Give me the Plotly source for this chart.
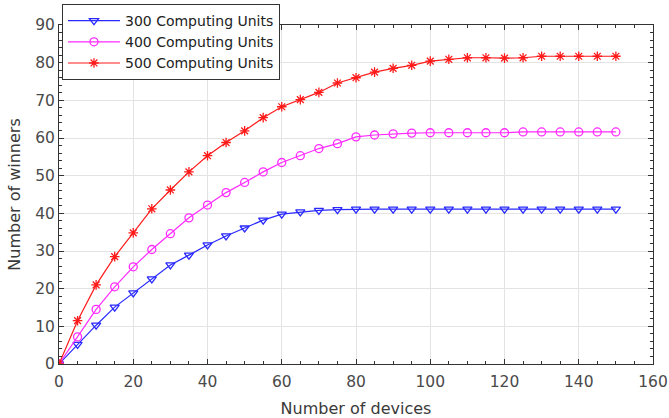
import plotly.graph_objects as go

devices = list(range(0, 155, 5))
units_300 = [0, 5.2, 10.3, 15.1, 18.9, 22.6, 26.3, 28.9, 31.6, 34.0, 36.1, 38.2, 39.8, 40.4, 40.8,
             41.0, 41.1, 41.1, 41.1, 41.1, 41.1, 41.1, 41.1, 41.1, 41.1, 41.1, 41.1, 41.1, 41.1, 41.1, 41.1]
units_400 = [0, 7.2, 14.5, 20.5, 25.8, 30.4, 34.6, 38.8, 42.2, 45.5, 48.2, 51.0, 53.5, 55.3, 57.2,
             58.5, 60.3, 60.8, 61.1, 61.3, 61.4, 61.4, 61.4, 61.4, 61.4, 61.6, 61.6, 61.6, 61.6, 61.6, 61.6]
units_500 = [0, 11.5, 21.0, 28.5, 34.8, 41.2, 46.2, 51.0, 55.3, 58.8, 61.9, 65.4, 68.3, 70.2, 72.1,
             74.6, 76.0, 77.5, 78.5, 79.3, 80.4, 80.9, 81.3, 81.3, 81.2, 81.3, 81.7, 81.7, 81.7, 81.7, 81.7]
series_names = ["300 Computing Units", "400 Computing Units", "500 Computing Units"]

FONT = "DejaVu Sans"

fig = go.Figure()
styles = [("#2a2aff", "triangle-down-open", 8), ("#ff2aff", "circle-open", 8), ("#ff1a1a", "asterisk-open", 8)]
for name, vals, (col, sym, sz) in zip(series_names, [units_300, units_400, units_500], styles):
    fig.add_trace(go.Scatter(
        x=devices, y=vals, name=name, mode="lines+markers",
        line=dict(color=col, width=1.2),
        marker=dict(symbol=sym, size=sz, color=col, line=dict(color=col, width=1.3)),
    ))

axis_common = dict(
    showline=True, linecolor="#333333", linewidth=1, mirror="allticks",
    ticks="inside", ticklen=5, tickcolor="#333333",
    showgrid=True, gridcolor="#e3e3e3", gridwidth=1, zeroline=False,
    automargin=False,
    tickfont=dict(family=FONT, size=15.5, color="#4a4a4a"),
    title_font=dict(family=FONT, size=16, color="#3a3a3a"),
)
fig.update_xaxes(range=[0, 160], dtick=20, title_text="Number of devices", title_standoff=16,
                 ticklabelstandoff=3,
                 minor=dict(dtick=5, ticks="inside", ticklen=3, tickcolor="#333333", showgrid=False),
                 **axis_common)
fig.update_yaxes(range=[0, 90], dtick=10, title_text="Number of winners", title_standoff=10,
                 minor=dict(dtick=2, ticks="inside", ticklen=3, tickcolor="#333333", showgrid=False),
                 **axis_common)

fig.update_layout(
    width=669, height=418,
    margin=dict(l=59, r=16, t=25, b=54, autoexpand=False),
    plot_bgcolor="white", paper_bgcolor="white",
    font=dict(family=FONT, size=14, color="#222222"),
    legend=dict(x=0.005, y=1.062, xanchor="left", yanchor="top",
                bgcolor="white", bordercolor="#333333", borderwidth=1,
                font=dict(family=FONT, size=14, color="#222222"),
                tracegroupgap=0, itemwidth=52),
    showlegend=True,
)

fig.write_html("out.html", config={"displayModeBar": False},
               post_script="document.body.style.margin='0';")
